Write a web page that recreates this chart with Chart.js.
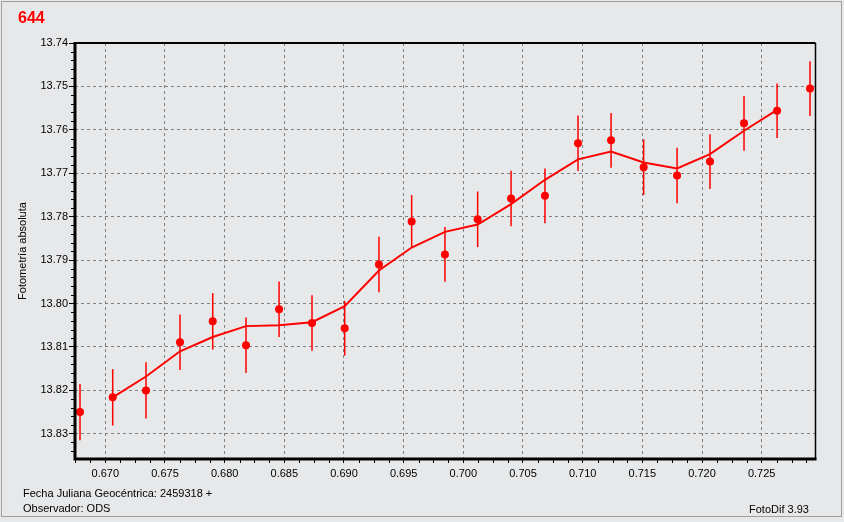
<!DOCTYPE html>
<html>
<head>
<meta charset="utf-8">
<script src="https://cdn.jsdelivr.net/npm/chart.js@4.4.1/dist/chart.umd.min.js"></script>
<style>
html, body { margin: 0; padding: 0; background: #e7e8ea; }
</style>
</head>
<body>
<canvas id="myChart" width="844" height="522"></canvas>
<script>
// fraction of day after JD 2459318
var jd = [0.66788, 0.67062, 0.67341, 0.67626, 0.67900, 0.68179, 0.68456, 0.68732,
	0.69006, 0.69293, 0.69567, 0.69846, 0.70120, 0.70400, 0.70684, 0.70961,
	0.71238, 0.71511, 0.71791, 0.72067, 0.72352, 0.72629, 0.72905];
var mag = [13.8250, 13.8216, 13.8200, 13.8089, 13.8041, 13.8096, 13.8013, 13.8045,
	13.8057, 13.7910, 13.7811, 13.7887, 13.7806, 13.7758, 13.7752, 13.7631,
	13.7624, 13.7686, 13.7705, 13.7673, 13.7585, 13.7556, 13.7505];
var magErr = [0.0065, 0.0065, 0.0065, 0.0064, 0.0065, 0.0064, 0.0064, 0.0064,
	0.0063, 0.0064, 0.0061, 0.0063, 0.0064, 0.0064, 0.0063, 0.0064,
	0.0063, 0.0064, 0.0064, 0.0063, 0.0063, 0.0063, 0.0063];
// smoothed curve, one value per point from jd[1] to jd[21]
var fitMag = [13.8216, 13.8168, 13.8110, 13.8077, 13.8052, 13.8050, 13.8043, 13.8006,
	13.7924, 13.7871, 13.7835, 13.7818, 13.7771, 13.7715, 13.7668, 13.7650,
	13.7675, 13.7689, 13.7656, 13.7602, 13.7554];

var xTicks = [0.670, 0.675, 0.680, 0.685, 0.690, 0.695, 0.700, 0.705, 0.710, 0.715, 0.720, 0.725];
var yTicks = [13.74, 13.75, 13.76, 13.77, 13.78, 13.79, 13.80, 13.81, 13.82, 13.83];
var xMin = 0.66746, xMax = 0.72951;
var yMin = 13.74, yMax = 13.8358;

var RED = '#ff0000';

Chart.defaults.font.family = '"Liberation Sans", Arial, sans-serif';
Chart.defaults.font.size = 11;
Chart.defaults.color = '#000';

var points = jd.map(function (x, i) { return { x: x, y: mag[i] }; });
var fit = fitMag.map(function (y, i) { return { x: jd[i + 1], y: y }; });

var errorBars = {
	id: 'errorBars',
	afterDatasetsDraw: function (chart) {
		var ctx = chart.ctx;
		var xs = chart.scales.x, ys = chart.scales.y;
		ctx.save();
		ctx.setLineDash([]);
		ctx.strokeStyle = RED;
		ctx.lineWidth = 1.5;
		for (var i = 0; i < jd.length; i++) {
			var px = xs.getPixelForValue(jd[i]);
			ctx.beginPath();
			ctx.moveTo(px, ys.getPixelForValue(mag[i] - magErr[i]));
			ctx.lineTo(px, ys.getPixelForValue(mag[i] + magErr[i]));
			ctx.stroke();
		}
		ctx.restore();
	}
};

var frame = {
	id: 'frame',
	beforeDraw: function (chart) {
		var ctx = chart.ctx;
		ctx.save();
		ctx.fillStyle = '#e7e8ea';
		ctx.fillRect(0, 0, chart.width, chart.height);
		ctx.strokeStyle = '#a0a0a0';
		ctx.lineWidth = 1;
		ctx.strokeRect(1.5, 1.5, 840, 515);
		ctx.restore();
	},
	afterDraw: function (chart) {
		var ctx = chart.ctx, a = chart.chartArea;
		var xs = chart.scales.x, ys = chart.scales.y;
		ctx.save();
		ctx.setLineDash([]);
		ctx.strokeStyle = '#000';
		// plot frame: thick left/bottom, thin top/right
		ctx.lineWidth = 2;
		ctx.beginPath();
		ctx.moveTo(a.left, a.top);
		ctx.lineTo(a.right, a.top);
		ctx.stroke();
		ctx.lineWidth = 1.5;
		ctx.beginPath();
		ctx.moveTo(a.right, a.top);
		ctx.lineTo(a.right, a.bottom);
		ctx.stroke();
		ctx.lineWidth = 3;
		ctx.beginPath();
		ctx.moveTo(a.left, a.top - 1);
		ctx.lineTo(a.left, a.bottom);
		ctx.lineTo(a.right + 1, a.bottom);
		ctx.stroke();

		// minor ticks
		ctx.lineWidth = 1;
		ctx.beginPath();
		for (var m = 13740; m <= yMax * 1000; m += 2) {
			if (m % 10 == 0) continue;
			var py = Math.round(ys.getPixelForValue(m / 1000)) + 0.5;
			ctx.moveTo(a.left - 4, py);
			ctx.lineTo(a.left - 1, py);
		}
		for (var k = Math.ceil(xMin * 800); k <= xMax * 800; k++) {
			if (k % 4 == 0) continue;
			var px = Math.round(xs.getPixelForValue(k / 800)) + 0.5;
			ctx.moveTo(px, a.bottom + 1);
			ctx.lineTo(px, a.bottom + 4);
		}
		ctx.stroke();

		// texts
		ctx.textBaseline = 'middle';
		ctx.textAlign = 'left';
		ctx.fillStyle = RED;
		ctx.font = 'bold 16px "Liberation Sans", Arial, sans-serif';
		ctx.fillText('644', 18, 19);
		ctx.fillStyle = '#000';
		ctx.font = '11px "Liberation Sans", Arial, sans-serif';
		ctx.fillText('Fecha Juliana Geocéntrica: 2459318 +', 23, 494);
		ctx.fillText('Observador: ODS', 23, 509);
		ctx.fillText('FotoDif 3.93', 749, 510);
		ctx.restore();
	}
};

var ctx = document.getElementById('myChart').getContext('2d');
var myChart = new Chart(ctx, {
	type: 'line',
	data: {
		datasets: [{
			label: 'Ajuste',
			data: fit,
			borderColor: RED,
			borderWidth: 2,
			pointRadius: 0,
			tension: 0,
			fill: false
		}, {
			label: 'Fotometría',
			data: points,
			showLine: false,
			pointRadius: 4,
			pointStyle: 'circle',
			pointBackgroundColor: RED,
			pointBorderWidth: 0,
			borderColor: RED
		}]
	},
	options: {
		responsive: false,
		animation: false,
		devicePixelRatio: 1,
		layout: { padding: { top: 43, right: 28.5, left: 0, bottom: 0 } },
		plugins: {
			legend: { display: false },
			tooltip: { enabled: false }
		},
		scales: {
			x: {
				type: 'linear',
				min: xMin,
				max: xMax,
				afterFit: function (s) { s.height = 63; },
				afterBuildTicks: function (s) {
					s.ticks = xTicks.map(function (v) { return { value: v }; });
				},
				grid: {
					color: '#808080',
					lineWidth: 1,
					tickColor: '#000',
					tickLength: 4,
					tickWidth: 1,
					tickBorderDash: []
				},
				border: { display: false, dash: [3, 3] },
				ticks: {
					padding: 4,
					maxRotation: 0,
					callback: function (v) { return v.toFixed(3); }
				}
			},
			y: {
				type: 'linear',
				reverse: true,
				min: yMin,
				max: yMax,
				afterFit: function (s) { s.width = 75; },
				afterBuildTicks: function (s) {
					s.ticks = yTicks.map(function (v) { return { value: v }; });
				},
				grid: {
					color: '#808080',
					lineWidth: 1,
					tickColor: '#000',
					tickLength: 6,
					tickWidth: 1,
					tickBorderDash: []
				},
				border: { display: false, dash: [3, 3] },
				ticks: {
					padding: 1,
					callback: function (v) { return v.toFixed(2); }
				},
				title: {
					display: true,
					text: 'Fotometría absoluta',
					font: { size: 11 },
					padding: { top: 16, bottom: 0 }
				}
			}
		}
	},
	plugins: [frame, errorBars]
});
</script>
</body>
</html>
